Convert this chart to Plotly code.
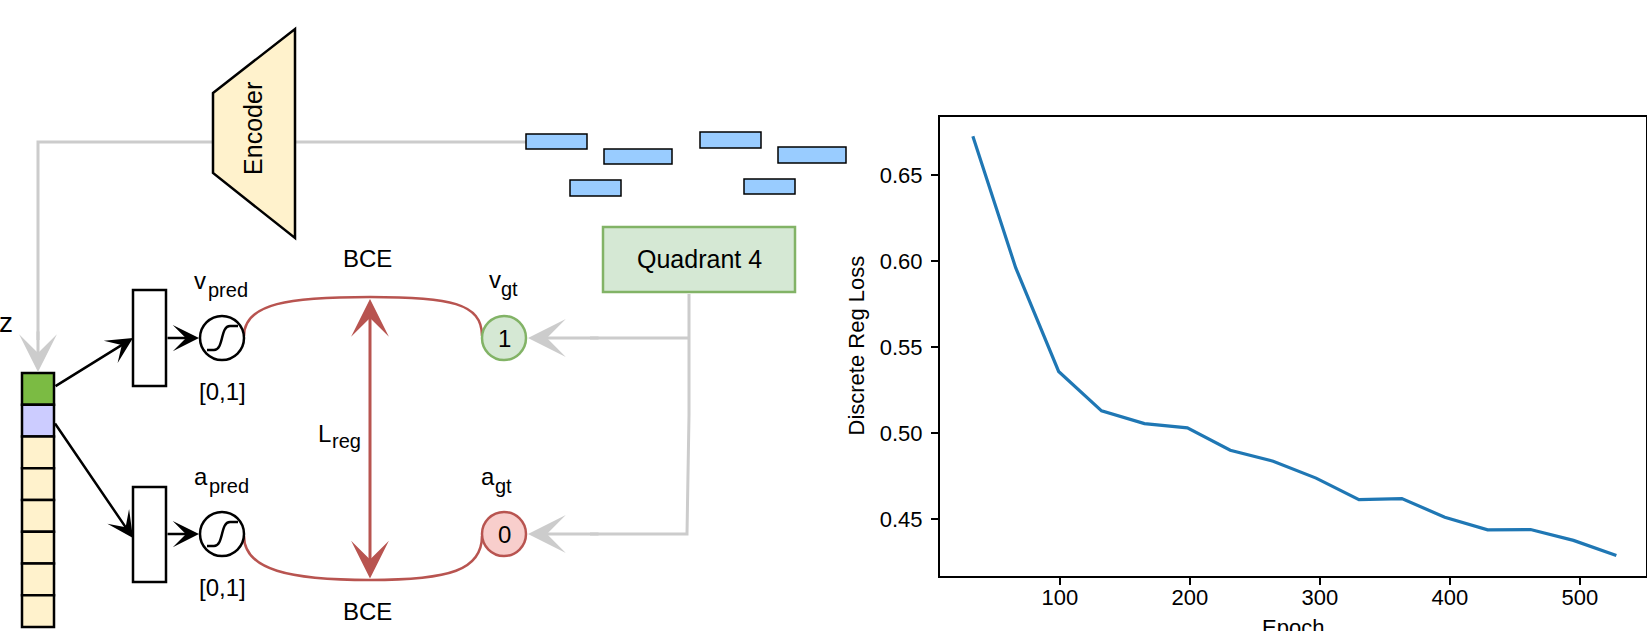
import plotly.graph_objects as go

# ---------------- data (chart) ----------------
epochs = [33, 66, 99, 132, 165, 198, 231, 264, 297, 330, 363, 396, 429, 462, 495, 528]
loss = [0.6725, 0.596, 0.5358, 0.5129, 0.5055, 0.5030, 0.4900, 0.4836,
        0.4738, 0.4613, 0.4619, 0.4511, 0.4437, 0.4439, 0.4376, 0.4288]
x_tickvals = [100, 200, 300, 400, 500]
x_ticktext = ["100", "200", "300", "400", "500"]
y_tickvals = [0.45, 0.50, 0.55, 0.60, 0.65]
y_ticktext = ["0.45", "0.50", "0.55", "0.60", "0.65"]
x_title = "Epoch"
y_title = "Discrete Reg Loss"

# ---------------- data (diagram) ----------------
z_cell_colors = ["#7bbb43", "#ccccff", "#fff2cc", "#fff2cc", "#fff2cc", "#fff2cc", "#fff2cc", "#fff2cc"]
gt_values = ["1", "0"]

W, H = 1647, 631
FONT = "Liberation Sans, Arial, sans-serif"
GRAY = "#cccccc"
RED = "#b85450"

fig = go.Figure()
fig.add_trace(go.Scatter(x=epochs, y=loss, mode="lines",
                         line=dict(color="#1f77b4", width=3.2),
                         xaxis="x", yaxis="y", showlegend=False, hoverinfo="skip"))
fig.add_trace(go.Scatter(x=[None], y=[None], xaxis="x2", yaxis="y2",
                         showlegend=False, hoverinfo="skip"))

shapes = []
annots = []


def add_path(d, color, width, fill=None):
    s = dict(type="path", path=d, xref="x2", yref="y2",
             line=dict(color=color, width=width), layer="above")
    if fill:
        s["fillcolor"] = fill
    shapes.append(s)


def add_rect(x0, y0, x1, y1, fill, color, width):
    shapes.append(dict(type="rect", xref="x2", yref="y2", x0=x0, y0=y0, x1=x1, y1=y1,
                       fillcolor=fill, line=dict(color=color, width=width), layer="above"))


def add_circle(cx, cy, r, fill, color, width):
    shapes.append(dict(type="circle", xref="x2", yref="y2", x0=cx - r, y0=cy - r,
                       x1=cx + r, y1=cy + r, fillcolor=fill,
                       line=dict(color=color, width=width), layer="above"))


def add_arrow(x0, y0, x1, y1, color, width, size, both=False):
    a = dict(x=x1, y=y1, ax=x0, ay=y0, xref="x2", yref="y2", axref="x2", ayref="y2",
             text="", showarrow=True, arrowhead=3, arrowsize=size, arrowwidth=width,
             arrowcolor=color, standoff=0, startstandoff=0)
    if both:
        a["arrowside"] = "end+start"
        a["startarrowhead"] = 3
        a["startarrowsize"] = size
    annots.append(a)


def add_text(px, py, text, size, angle=0):
    annots.append(dict(x=px / W, y=1 - py / H, xref="paper", yref="paper", text=text,
                       showarrow=False, xanchor="center", yanchor="middle",
                       textangle=angle, font=dict(family=FONT, size=size, color="black")))


# gray connectors
add_path("M526,142 L38,142 L38,340", GRAY, 3)
add_arrow(38, 330, 38, 372, GRAY, 3, 2.1)
add_path("M689,294 L689,415 L687,534 L590,534", GRAY, 3)
add_path("M689,338 L590,338", GRAY, 3)
add_arrow(600, 338, 528, 338, GRAY, 3, 2.1)
add_arrow(600, 534, 528, 534, GRAY, 3, 2.1)

# encoder
add_path("M213,93 L295,29 L295,238 L213,173 Z", "black", 2.5, fill="#fff2cc")
add_text(253.6, 128.3, "Encoder", 25, angle=-90)

# blue boxes (input segments)
for (x0, y0, x1, y1) in [(526, 134, 587, 149), (604, 149, 672, 164), (570, 180, 621, 196),
                         (700, 132, 761, 148), (778, 147, 846, 163), (744, 179, 795, 194)]:
    add_rect(x0, y0, x1, y1, "#99ccff", "black", 1.5)

# quadrant box
add_rect(603, 227, 795, 292, "#d5e8d4", "#82b366", 2.5)
add_text(699, 258.5, "Quadrant 4", 25)

# z vector
n = len(z_cell_colors)
top, bot = 373, 627
h = (bot - top) / n
for i, c in enumerate(z_cell_colors):
    add_rect(22, top + i * h, 54, top + (i + 1) * h, c, "black", 2.5)
add_text(6, 322.6, "z", 28)

# linear layers
add_rect(133, 290, 166, 386, "white", "black", 2.5)
add_rect(133, 487, 166, 582, "white", "black", 2.5)
add_arrow(54, 387, 133, 338, "black", 2.5, 1.75)
add_arrow(54, 422, 133, 538, "black", 2.5, 1.75)
add_arrow(166, 338, 199, 338, "black", 2.5, 1.75)
add_arrow(166, 534, 199, 534, "black", 2.5, 1.75)

# red BCE arcs
add_path("M244,336 C244,303 290,297 370,297 C450,297 482,303 482,336", RED, 2.5)
add_path("M244,536 C244,570 290,580 370,580 C450,580 482,570 482,536", RED, 2.5)
add_arrow(370, 580, 370, 299, RED, 3, 2.1, both=True)

# sigmoid nodes
for cy in (338, 534):
    add_circle(222, cy, 22, "white", "black", 2.5)
    cx = 222
    add_path(f"M{cx-15},{cy+12} L{cx-8},{cy+12} C{cx+2},{cy+12} {cx-2},{cy-12} {cx+8},{cy-12} L{cx+16},{cy-12}",
             "black", 2.5)

# ground-truth nodes
add_circle(504, 338, 22, "#d5e8d4", "#82b366", 2.5)
add_circle(504, 534, 22, "#f8cecc", RED, 2.5)
add_text(504, 338, gt_values[0], 24)
add_text(504, 534, gt_values[1], 24)

# labels
add_text(367.5, 258.4, "BCE", 24)
add_text(367.5, 611.7, "BCE", 24)
add_text(222, 391.7, "[0,1]", 24)
add_text(222, 587.7, "[0,1]", 24)
add_text(200.3, 280, "v", 24)
add_text(227.8, 289.8, "pred", 20)
add_text(201, 476.7, "a", 24)
add_text(228.8, 485.8, "pred", 20)
add_text(495, 279, "v", 24)
add_text(509.7, 288.5, "gt", 20)
add_text(487.5, 476.7, "a", 24)
add_text(503, 485.8, "gt", 20)
add_text(324.5, 433.5, "L", 24)
add_text(346, 441, "reg", 20)

# chart titles
add_text(856.7, 345.8, y_title, 22, angle=-90)
add_text(1293, 627, x_title, 22)

axis_common = dict(ticks="outside", ticklen=7, tickwidth=1.5, tickcolor="black",
                   showline=True, linecolor="black", linewidth=1.5, mirror=True,
                   showgrid=False, zeroline=False,
                   tickfont=dict(family=FONT, size=22, color="black"))

fig.update_layout(
    width=W, height=H,
    margin=dict(l=0, r=0, t=0, b=0),
    paper_bgcolor="white", plot_bgcolor="rgba(0,0,0,0)",
    showlegend=False,
    xaxis=dict(domain=[939.7 / W, 1646 / W], range=[7.5, 550.8], anchor="y",
               tickvals=x_tickvals, ticktext=x_ticktext, ticklabelstandoff=-6, **axis_common),
    yaxis=dict(domain=[1 - 576 / H, 1 - 116.7 / H], range=[0.4169, 0.6839], anchor="x",
               tickvals=y_tickvals, ticktext=y_ticktext, ticklabelstandoff=4, **axis_common),
    xaxis2=dict(domain=[0, 1], range=[0, W], anchor="y2", visible=False),
    yaxis2=dict(domain=[0, 1], range=[H, 0], anchor="x2", visible=False),
    shapes=shapes,
    annotations=annots,
)

fig.write_html("out.html", config={"displayModeBar": False},
               post_script="document.body.style.margin='0px';document.body.style.overflow='hidden';")
